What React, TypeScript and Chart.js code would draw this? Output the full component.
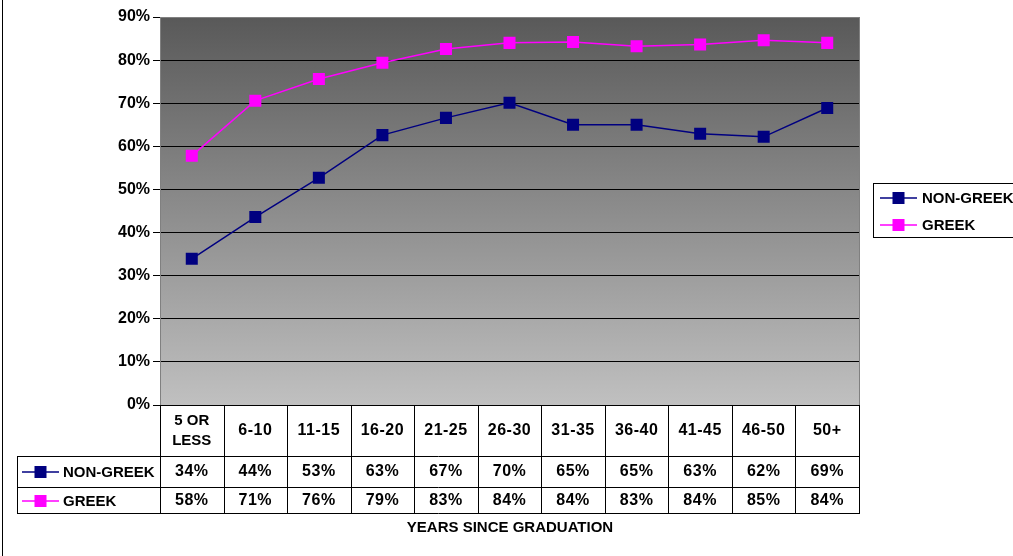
import React, { useEffect, useRef } from 'react';
import { Chart, registerables } from 'chart.js';

Chart.register(...registerables);

const categories: string[][] = [
  ['5 OR', 'LESS'], ['6-10'], ['11-15'], ['16-20'], ['21-25'], ['26-30'],
  ['31-35'], ['36-40'], ['41-45'], ['46-50'], ['50+'],
];
const nonGreek = [33.9, 43.6, 52.7, 62.6, 66.6, 70.1, 65.0, 65.0, 62.9, 62.2, 68.9];
const greek = [57.8, 70.6, 75.6, 79.4, 82.6, 84.0, 84.2, 83.2, 83.6, 84.6, 84.0];
const seriesNames = ['NON-GREEK', 'GREEK'];
const seriesColors = ['#000080', '#FF00FF'];
const yMin = 0;
const yMax = 90;
const yStep = 10;
const axisTitle = 'YEARS SINCE GRADUATION';

const FONT = '"Liberation Sans", Arial, sans-serif';

function drawKey(ctx: CanvasRenderingContext2D, x0: number, x1: number, y: number, color: string) {
  ctx.save();
  ctx.strokeStyle = color;
  ctx.lineWidth = 1.5;
  ctx.beginPath();
  ctx.moveTo(x0, y);
  ctx.lineTo(x1, y);
  ctx.stroke();
  const cx = (x0 + x1) / 2;
  ctx.fillStyle = color;
  ctx.fillRect(cx - 6, y - 6, 12, 12);
  ctx.restore();
}

const customPlugin = {
  id: 'excelStyle',
  beforeDraw(chart: any) {
    const { ctx, chartArea } = chart;
    ctx.save();
    ctx.fillStyle = '#ffffff';
    ctx.fillRect(0, 0, chart.width, chart.height);
    const g = ctx.createLinearGradient(0, chartArea.top, 0, chartArea.bottom);
    g.addColorStop(0, '#595959');
    g.addColorStop(1, '#c0c0c0');
    ctx.fillStyle = g;
    ctx.fillRect(chartArea.left, chartArea.top, chartArea.right - chartArea.left, chartArea.bottom - chartArea.top);
    ctx.restore();
  },
  afterDraw(chart: any) {
    const { ctx, chartArea } = chart;
    const left = chartArea.left;
    const right = chartArea.right;
    const n = categories.length;
    const colW = (right - left) / n;
    const top = chartArea.bottom;
    const hb = top + 51;
    const r1 = hb + 31;
    const r2 = r1 + 26;
    const tableLeft = 17;

    ctx.save();
    // plot border (gray)
    ctx.strokeStyle = '#808080';
    ctx.lineWidth = 1;
    ctx.beginPath();
    ctx.moveTo(right + 0.5, chartArea.top);
    ctx.lineTo(right + 0.5, top);
    ctx.moveTo(left, chartArea.top + 0.5);
    ctx.lineTo(right, chartArea.top + 0.5);
    ctx.stroke();

    // table lines
    ctx.strokeStyle = '#000000';
    ctx.beginPath();
    ctx.moveTo(left, top + 0.5);
    ctx.lineTo(right + 1, top + 0.5);
    [hb, r1, r2].forEach((y) => {
      ctx.moveTo(tableLeft, y + 0.5);
      ctx.lineTo(right + 1, y + 0.5);
    });
    for (let i = 0; i <= n; i++) {
      const x = Math.round(left + i * colW) + 0.5;
      ctx.moveTo(x, top);
      ctx.lineTo(x, r2 + 1);
    }
    ctx.moveTo(tableLeft + 0.5, hb);
    ctx.lineTo(tableLeft + 0.5, r2 + 1);
    ctx.stroke();

    // header labels
    ctx.fillStyle = '#000000';
    ctx.textAlign = 'center';
    ctx.textBaseline = 'middle';
    categories.forEach((lines, i) => {
      const cx = left + (i + 0.5) * colW;
      if (lines.length === 1) {
        ctx.font = `bold 16px ${FONT}`;
        (ctx as any).letterSpacing = '0.5px';
        ctx.fillText(lines[0], cx, top + 26);
      } else {
        ctx.font = `bold 15px ${FONT}`;
        (ctx as any).letterSpacing = '0px';
        ctx.fillText(lines[0], cx, top + 16);
        ctx.fillText(lines[1], cx, top + 36);
      }
    });
    // values
    ctx.font = `bold 16px ${FONT}`;
    (ctx as any).letterSpacing = '0.5px';
    [nonGreek, greek].forEach((vals, s) => {
      const y = s === 0 ? hb + 16 : r1 + 14;
      vals.forEach((v, i) => {
        const cx = left + (i + 0.5) * colW;
        ctx.fillText(`${Math.round(v)}%`, cx, y);
      });
    });
    (ctx as any).letterSpacing = '0px';
    ctx.font = `bold 15px ${FONT}`;

    // row keys
    ctx.textAlign = 'left';
    [hb + 16, r1 + 14].forEach((y, s) => {
      drawKey(ctx, 22, 59, y, seriesColors[s]);
      ctx.fillStyle = '#000000';
      ctx.fillText(seriesNames[s], 63, y + 1);
    });

    // axis title
    ctx.textAlign = 'center';
    ctx.fillText(axisTitle, 510, r2 + 15);

    // legend box
    ctx.strokeStyle = '#000000';
    ctx.strokeRect(873.5, 183.5, 150, 54);
    [198, 225].forEach((y, s) => {
      drawKey(ctx, 880, 917, y, seriesColors[s]);
      ctx.fillStyle = '#000000';
      ctx.textAlign = 'left';
      ctx.fillText(seriesNames[s], 922, y + 1);
    });

    // outer border (left)
    ctx.strokeStyle = '#000000';
    ctx.beginPath();
    ctx.moveTo(2.5, 0);
    ctx.lineTo(2.5, chart.height);
    ctx.stroke();
    ctx.restore();
  },
};

export default function App() {
  const ref = useRef<HTMLCanvasElement | null>(null);
  useEffect(() => {
    if (!ref.current) return;
    const chart = new Chart(ref.current, {
      type: 'line',
      data: {
        labels: categories.map((c) => c.join(' ')),
        datasets: [
          {
            label: seriesNames[0],
            data: nonGreek,
            borderColor: seriesColors[0],
            backgroundColor: seriesColors[0],
            borderWidth: 1.5,
            pointStyle: 'rect',
            pointRadius: 8.5,
            pointBorderWidth: 0,
            tension: 0,
          },
          {
            label: seriesNames[1],
            data: greek,
            borderColor: seriesColors[1],
            backgroundColor: seriesColors[1],
            borderWidth: 1.5,
            pointStyle: 'rect',
            pointRadius: 8.5,
            pointBorderWidth: 0,
            tension: 0,
          },
        ],
      },
      options: {
        responsive: false,
        animation: false,
        layout: { padding: { left: 0, top: 17, right: 154, bottom: 151 } },
        plugins: { legend: { display: false }, tooltip: { enabled: false } },
        scales: {
          x: { display: false, offset: true },
          y: {
            min: yMin,
            max: yMax,
            afterFit: (s: any) => { s.width = 160; },
            ticks: {
              stepSize: yStep,
              padding: 3,
              color: '#000000',
              font: { family: FONT, weight: 'bold', size: 16 },
              callback: (v: any) => `${v}%`,
            },
            grid: {
              color: (c: any) => (c.tick && c.tick.value === yMax ? '#808080' : '#000000'),
              lineWidth: 1,
              drawTicks: true,
              tickLength: 7,
              tickColor: '#000000',
            },
            border: { color: '#808080', width: 1 },
          },
        },
      },
      plugins: [customPlugin],
    });
    return () => chart.destroy();
  }, []);
  return (
    <div style={{ position: 'absolute', left: 0, top: 0, width: 1013, height: 556 }}>
      <canvas ref={ref} width={1013} height={556} />
    </div>
  );
}
